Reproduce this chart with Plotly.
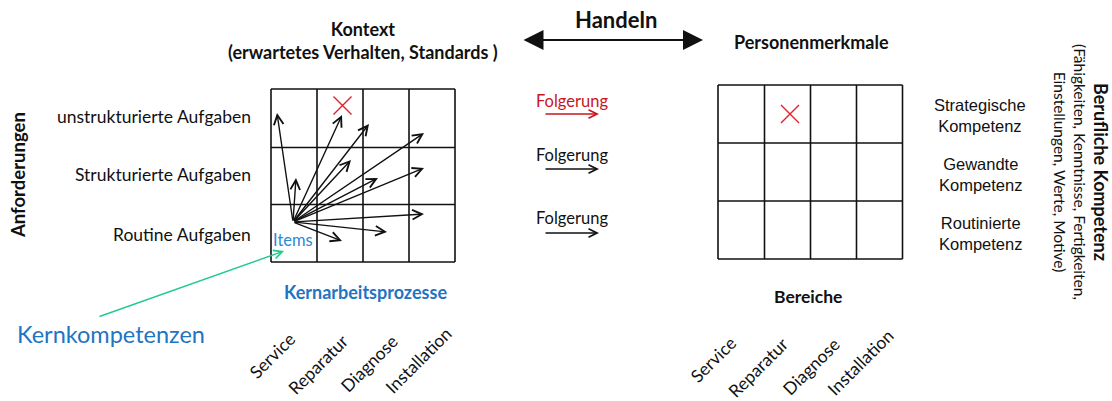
import plotly.graph_objects as go

# ---------------- data ----------------
processes = ["Service", "Reparatur", "Diagnose", "Installation"]
demands = ["unstrukturierte Aufgaben", "Strukturierte Aufgaben", "Routine Aufgaben"]
competences = ["Strategische<br>Kompetenz", "Gewandte<br>Kompetenz", "Routinierte<br>Kompetenz"]
conclusions = ["Folgerung", "Folgerung", "Folgerung"]

# grid boundaries (pixel space of the diagram)
left_grid_x = [271, 317, 363, 409, 455]
left_grid_y = [89, 147.5, 204.5, 262]
right_grid_x = [718, 764.5, 810.5, 856.5, 902.5]
right_grid_y = [85, 143, 201, 259]

# item vectors (from common origin)
item_origin_x = 293
item_origin_y = 222
item_tips_x = [277, 296, 342, 369, 351, 424, 378, 424, 424, 387, 342]
item_tips_y = [113, 178, 115, 124, 160, 133, 178, 168, 214, 232, 241]

# red crosses
cross_x = [342.5, 790]
cross_y = [105.5, 114]

# label positions
demand_label_y = [116, 174, 234]
competence_label_y = [115, 174, 233]
conclusion_text_y = [101, 155, 218]
conclusion_arrow_y = [114, 169, 233]
left_proc_x = [272, 318, 369, 418]
left_proc_y = [355, 364, 363, 360]
right_proc_x = [713, 758, 811, 860]
right_proc_y = [359, 367, 366, 362]

CAL = "Lato, Carlito, Calibri, sans-serif"
ARI = "Liberation Sans, Arial, sans-serif"
BLACK = "#111111"
RED = "#c8161d"
XRED = "#e0202a"
BLUE = "#1f74c3"
GREEN = "#1fcb8b"

fig = go.Figure()
shapes = []
ann = []


def grid(xs, ys):
    for x in xs:
        shapes.append(dict(type="line", xref="x", yref="y", x0=x, x1=x, y0=ys[0], y1=ys[-1],
                           line=dict(color=BLACK, width=1.6)))
    for y in ys:
        shapes.append(dict(type="line", xref="x", yref="y", x0=xs[0], x1=xs[-1], y0=y, y1=y,
                           line=dict(color=BLACK, width=1.6)))


grid(left_grid_x, left_grid_y)
grid(right_grid_x, right_grid_y)

# red crosses
fig.add_trace(go.Scatter(x=cross_x, y=cross_y, mode="markers", hoverinfo="skip",
                         marker=dict(symbol="x-thin", size=18, line=dict(color=XRED, width=1.4))))

# item arrows
for tx, ty in zip(item_tips_x, item_tips_y):
    ann.append(dict(x=tx, y=ty, ax=item_origin_x, ay=item_origin_y, xref="x", yref="y",
                    axref="x", ayref="y", text="", showarrow=True, arrowhead=5,
                    arrowwidth=1.4, arrowsize=1.35, arrowcolor=BLACK, standoff=0))

# Folgerung arrows
for i, (t, yt, ya) in enumerate(zip(conclusions, conclusion_text_y, conclusion_arrow_y)):
    col = RED if i == 0 else BLACK
    ann.append(dict(x=572, y=yt, xref="x", yref="y", text=t, showarrow=False,
                    font=dict(family=CAL, size=16.5, color=col), xanchor="center", yanchor="middle"))
    ann.append(dict(x=599, y=ya, ax=544, ay=ya, xref="x", yref="y", axref="x", ayref="y",
                    text="", showarrow=True, arrowhead=5, arrowwidth=1.3, arrowsize=1.3,
                    arrowcolor=col, standoff=0))

# Handeln double arrow
ann.append(dict(x=703, y=40, ax=522, ay=40, xref="x", yref="y", axref="x", ayref="y",
                text="", showarrow=True, arrowhead=2, startarrowhead=2, arrowside="end+start",
                arrowwidth=2, arrowsize=2, startarrowsize=2, arrowcolor=BLACK, standoff=0,
                startstandoff=0))
ann.append(dict(x=616, y=19, xref="x", yref="y", text="<b>Handeln</b>", showarrow=False,
                font=dict(family=CAL, size=22, color=BLACK)))

# titles
ann.append(dict(x=363, y=40, xref="x", yref="y",
                text="<b>Kontext<br>(erwartetes Verhalten, Standards )</b>", showarrow=False,
                font=dict(family=CAL, size=18, color=BLACK), align="center"))
ann.append(dict(x=811, y=42, xref="x", yref="y", text="<b>Personenmerkmale</b>", showarrow=False,
                font=dict(family=CAL, size=18, color=BLACK)))
ann.append(dict(x=365, y=292, xref="x", yref="y", text="<b>Kernarbeitsprozesse</b>", showarrow=False,
                font=dict(family=CAL, size=18, color=BLUE)))
ann.append(dict(x=808, y=296, xref="x", yref="y", text="<b>Bereiche</b>", showarrow=False,
                font=dict(family=CAL, size=17.5, color=BLACK)))

# demand labels
for t, y in zip(demands, demand_label_y):
    ann.append(dict(x=253, y=y, xref="x", yref="y", text=t, showarrow=False, xanchor="right",
                    font=dict(family=CAL, size=17.5, color=BLACK)))
ann.append(dict(x=18, y=175, xref="x", yref="y", text="<b>Anforderungen</b>", showarrow=False,
                textangle=-90, font=dict(family=CAL, size=18.5, color=BLACK)))

# competence labels
for t, y in zip(competences, competence_label_y):
    ann.append(dict(x=980, y=y, xref="x", yref="y", text=t, showarrow=False, align="center",
                    font=dict(family=ARI, size=16.5, color=BLACK)))

ann.append(dict(x=1082, y=172, xref="x", yref="y",
                text="<span style='font-size:18px'><b>Berufliche Kompetenz</b></span><br>"
                     "(Fähigkeiten, Kenntnisse, Fertigkeiten,<br>Einstellungen, Werte, Motive)",
                showarrow=False, textangle=90, align="center",
                font=dict(family=CAL, size=15.5, color=BLACK)))

# process labels (rotated)
for t, x, y in zip(processes, left_proc_x, left_proc_y):
    ann.append(dict(x=x, y=y, xref="x", yref="y", text=t, showarrow=False, textangle=-45,
                    borderpad=0, font=dict(family=CAL, size=17.5, color=BLACK)))
for t, x, y in zip(processes, right_proc_x, right_proc_y):
    ann.append(dict(x=x, y=y, xref="x", yref="y", text=t, showarrow=False, textangle=-45,
                    borderpad=0, font=dict(family=CAL, size=17.5, color=BLACK)))

# Items & Kernkompetenzen
ann.append(dict(x=293, y=240, xref="x", yref="y", text="Items", showarrow=False,
                font=dict(family=CAL, size=16.5, color="#2a8ad4")))
ann.append(dict(x=284, y=251, ax=98, ay=317, xref="x", yref="y", axref="x", ayref="y",
                text="", showarrow=True, arrowhead=5, arrowwidth=1.4, arrowsize=1.2,
                arrowcolor=GREEN, standoff=0))
ann.append(dict(x=111, y=334, xref="x", yref="y", text="Kernkompetenzen", showarrow=False,
                font=dict(family=CAL, size=23.5, color=BLUE)))

fig.update_layout(
    width=1112, height=401, margin=dict(l=0, r=0, t=0, b=0),
    paper_bgcolor="white", plot_bgcolor="white", showlegend=False,
    xaxis=dict(range=[0, 1112], visible=False, fixedrange=True),
    yaxis=dict(range=[401, 0], visible=False, fixedrange=True),
    shapes=shapes, annotations=ann,
)

fig.write_html("out.html", config={"displayModeBar": False},
               post_script="document.body.style.margin='0';document.body.style.overflow='hidden';")
